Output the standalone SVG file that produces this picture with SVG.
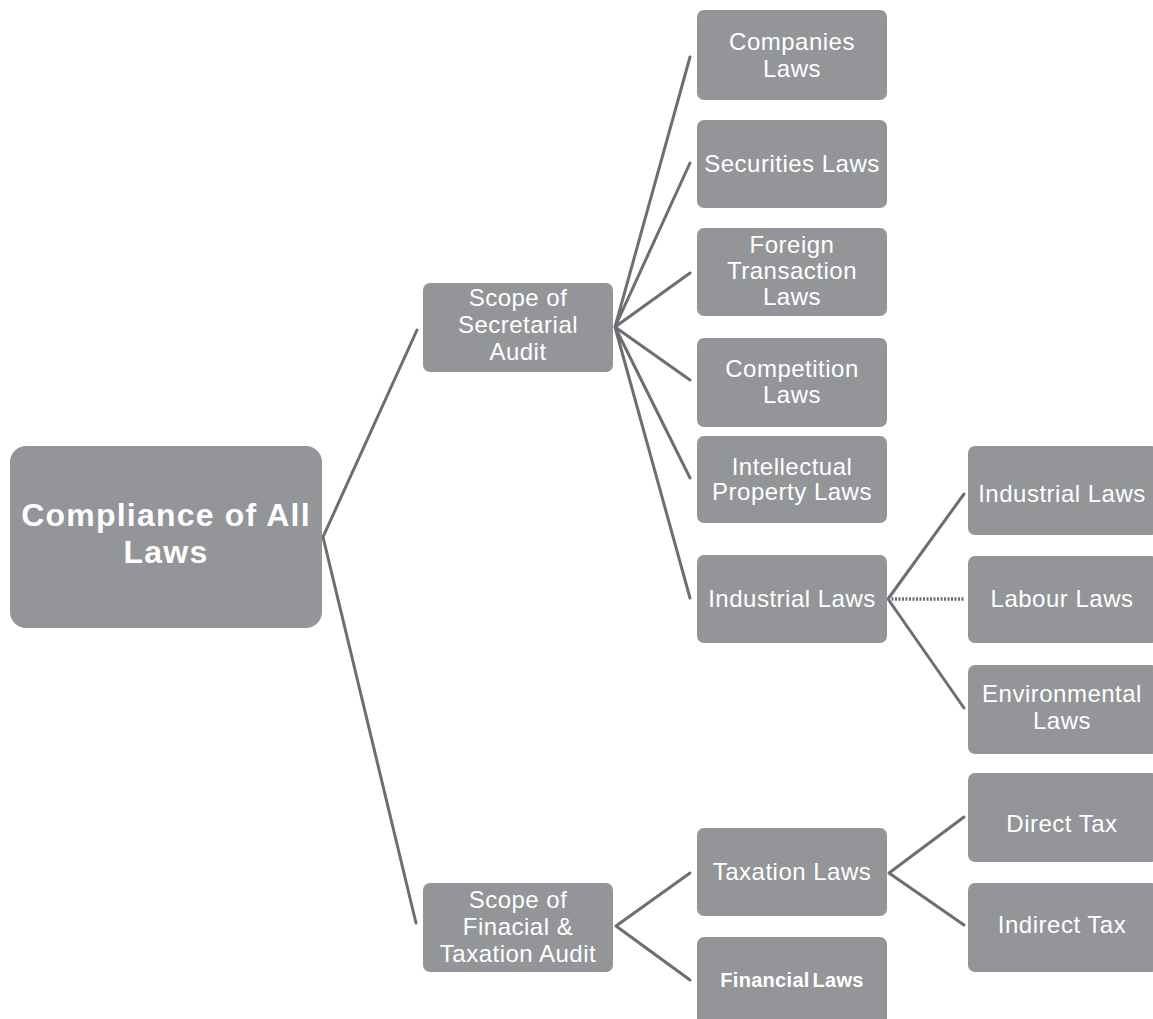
<svg xmlns="http://www.w3.org/2000/svg" width="1153" height="1019" viewBox="0 0 1153 1019">
<style>
.box{fill:#939598;}
.t{fill:#ffffff;font-family:"Liberation Sans",Arial,sans-serif;font-size:24px;text-anchor:middle;letter-spacing:0.5px;}
.tb{fill:#ffffff;font-family:"Liberation Sans",Arial,sans-serif;font-size:32px;font-weight:bold;text-anchor:middle;letter-spacing:1.2px;}
.tf{fill:#ffffff;font-family:"Liberation Sans",Arial,sans-serif;font-size:20px;font-weight:bold;text-anchor:middle;letter-spacing:0.3px;word-spacing:-3px;}
.c{stroke:#6d6e71;stroke-width:3;fill:none;stroke-linecap:round;}
.d{stroke:#6d6e71;stroke-width:3.5;fill:none;stroke-dasharray:2 1.5;}
</style>
<rect width="1153" height="1019" fill="#ffffff"/>
<g id="connectors">
<path class="c" d="M323,537 L417,330 M323,537 L416,923"/>
<path class="c" d="M615,327 L690,57 M615,327 L690,163 M615,327 L690,273 M615,327 L690,380 M615,327 L690,478 M615,327 L690,598"/>
<path class="c" d="M888,599 L964,494 M888,599 L964,708"/>
<path class="d" d="M888,599 L964,599"/>
<path class="c" d="M616,926 L690,873 M616,926 L690,980"/>
<path class="c" d="M889,873 L964,817 M889,873 L964,925"/>
</g>
<g id="root">
<rect class="box" x="10" y="446" width="312" height="182" rx="16"/>
<text class="tb" x="166" y="526">Compliance of All</text>
<text class="tb" x="166" y="563">Laws</text>
</g>
<g id="secretarial">
<rect class="box" x="423" y="283" width="190" height="89" rx="7"/>
<text class="t" x="518" y="306">Scope of</text>
<text class="t" x="518" y="333">Secretarial</text>
<text class="t" x="518" y="360">Audit</text>
</g>
<g id="financial-scope">
<rect class="box" x="423" y="883" width="190" height="89" rx="7"/>
<text class="t" x="518" y="908">Scope of</text>
<text class="t" x="518" y="935">Finacial &amp;</text>
<text class="t" x="518" y="962">Taxation Audit</text>
</g>
<g id="companies">
<rect class="box" x="697" y="10" width="190" height="90" rx="7"/>
<text class="t" x="792" y="50">Companies</text>
<text class="t" x="792" y="77">Laws</text>
</g>
<g id="securities">
<rect class="box" x="697" y="120" width="190" height="88" rx="7"/>
<text class="t" x="792" y="172">Securities Laws</text>
</g>
<g id="foreign">
<rect class="box" x="697" y="228" width="190" height="88" rx="7"/>
<text class="t" x="792" y="253">Foreign</text>
<text class="t" x="792" y="279">Transaction</text>
<text class="t" x="792" y="305">Laws</text>
</g>
<g id="competition">
<rect class="box" x="697" y="338" width="190" height="89" rx="7"/>
<text class="t" x="792" y="377">Competition</text>
<text class="t" x="792" y="403">Laws</text>
</g>
<g id="intellectual">
<rect class="box" x="697" y="436" width="190" height="87" rx="7"/>
<text class="t" x="792" y="475">Intellectual</text>
<text class="t" x="792" y="500">Property Laws</text>
</g>
<g id="industrial">
<rect class="box" x="697" y="555" width="190" height="88" rx="7"/>
<text class="t" x="792" y="607">Industrial Laws</text>
</g>
<g id="taxation">
<rect class="box" x="697" y="828" width="190" height="88" rx="7"/>
<text class="t" x="792" y="880">Taxation Laws</text>
</g>
<g id="financial-laws">
<rect class="box" x="697" y="937" width="190" height="92" rx="7"/>
<text class="tf" x="792" y="987">Financial Laws</text>
</g>
<g id="industrial-sub">
<rect class="box" x="968" y="446" width="190" height="89" rx="7"/>
<text class="t" x="1062" y="502">Industrial Laws</text>
</g>
<g id="labour">
<rect class="box" x="968" y="556" width="190" height="87" rx="7"/>
<text class="t" x="1062" y="607">Labour Laws</text>
</g>
<g id="environmental">
<rect class="box" x="968" y="665" width="190" height="89" rx="7"/>
<text class="t" x="1062" y="702">Environmental</text>
<text class="t" x="1062" y="729">Laws</text>
</g>
<g id="direct-tax">
<rect class="box" x="968" y="773" width="190" height="89" rx="7"/>
<text class="t" x="1062" y="832">Direct Tax</text>
</g>
<g id="indirect-tax">
<rect class="box" x="968" y="883" width="190" height="89" rx="7"/>
<text class="t" x="1062" y="933">Indirect Tax</text>
</g>
</svg>
